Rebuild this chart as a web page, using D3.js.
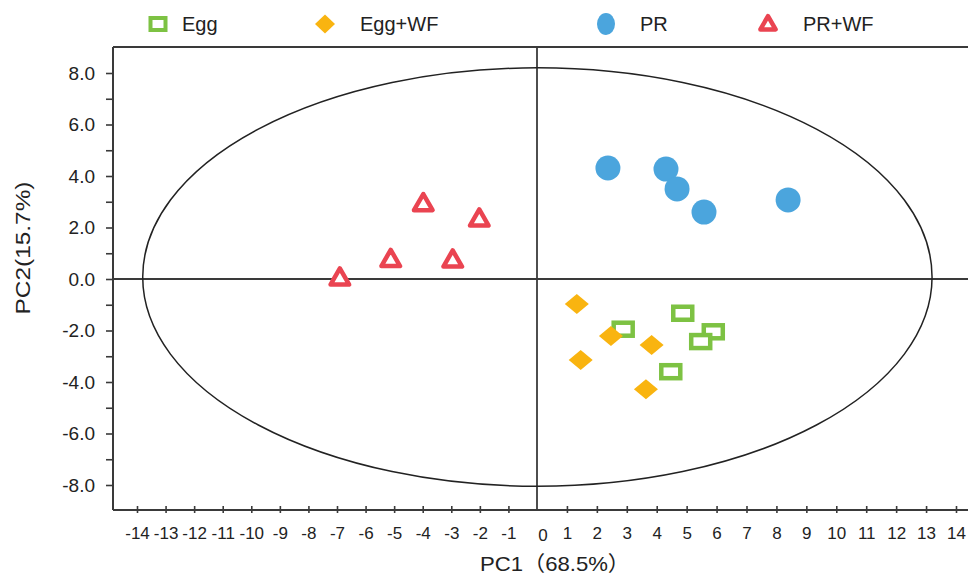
<!DOCTYPE html>
<html>
<head>
<meta charset="utf-8">
<script src="https://cdn.jsdelivr.net/npm/d3@7"></script>
<style>
  body { margin: 0; background: #fff; }
  svg { display: block; font-family: "Liberation Sans", Arial, "Noto Sans CJK SC", sans-serif; }
</style>
</head>
<body>
<div id="chart"></div>
<script>
// 그룹별 PCA 점수 (PC1, PC2)
const groups = ["Egg", "Egg+WF", "PR", "PR+WF"];
const eggX = [4.87, 2.88, 5.89, 5.47, 4.47];
const eggY = [-1.33, -1.95, -2.05, -2.43, -3.60];
const eggWfX = [1.33, 2.47, 3.83, 1.46, 3.64];
const eggWfY = [-0.97, -2.21, -2.56, -3.15, -4.28];
const prX = [2.37, 4.31, 4.68, 5.58, 8.39];
const prY = [4.31, 4.27, 3.50, 2.60, 3.07];
const prWfX = [-3.98, -2.02, -5.12, -2.95, -6.90];
const prWfY = [2.96, 2.36, 0.79, 0.77, 0.07];

// 축 눈금
const xTicks = d3.range(-14, 15);
const yTicks = d3.range(-8, 9);
const yLabels = [-8, -6, -4, -2, 0, 2, 4, 6, 8];

// 신뢰 타원 범위
const ellipseX = [-13.8, 13.2];
const ellipseY = [-8.05, 8.2];

const width = 968, height = 575;
const colors = { "Egg": "#7dc243", "Egg+WF": "#f9b410", "PR": "#4ba5dd", "PR+WF": "#ea4451" };

const svg = d3.select("#chart").append("svg")
    .attr("width", width)
    .attr("height", height);

// 원본 그림의 눈금 간격이 좌우로 조금 달라서 세 점 스케일 사용
const x = d3.scaleLinear().domain([-14, 0, 14]).range([137, 537, 956]);
const y = d3.scaleLinear().domain([-8, 0, 8]).range([485, 279, 73]);

const plotLeft = 113, plotTop = 47, plotBottom = 510;
const lineColor = "#3a3a3a";
const hyphen = s => s.replace("−", "-");

// 프레임
svg.append("line").attr("x1", plotLeft).attr("x2", width).attr("y1", plotTop).attr("y2", plotTop)
    .attr("stroke", lineColor).attr("stroke-width", 2);
svg.append("line").attr("x1", plotLeft).attr("x2", plotLeft).attr("y1", plotTop).attr("y2", plotBottom)
    .attr("stroke", lineColor).attr("stroke-width", 2);

// x 축
const xAxis = svg.append("g")
    .attr("transform", `translate(0,${plotBottom})`)
    .call(d3.axisBottom(x).tickValues(xTicks.filter(d => d !== 0)).tickSize(3).tickPadding(14).tickSizeOuter(0)
        .tickFormat(d => hyphen(String(d))));
xAxis.select(".domain").remove();
xAxis.selectAll(".tick line").attr("y1", -4).attr("stroke", lineColor).attr("stroke-width", 1.6);
xAxis.selectAll(".tick text").attr("font-size", 17).attr("fill", "#222").attr("font-family", null);
xAxis.append("text")
    .attr("x", x(0) + 6).attr("y", 31)
    .attr("text-anchor", "middle").attr("font-size", 17).attr("fill", "#222")
    .text("0");
svg.append("line").attr("x1", plotLeft).attr("x2", width).attr("y1", plotBottom).attr("y2", plotBottom)
    .attr("stroke", lineColor).attr("stroke-width", 2);

// y 축
const yAxis = svg.append("g")
    .attr("transform", `translate(${plotLeft},0)`)
    .call(d3.axisLeft(y).tickValues(yTicks).tickSize(7).tickPadding(11)
        .tickFormat(d => yLabels.includes(d) ? hyphen(d3.format(".1f")(d)) : ""));
yAxis.select(".domain").remove();
yAxis.selectAll(".tick line").attr("stroke", lineColor).attr("stroke-width", 1.6);
yAxis.selectAll(".tick text").attr("font-size", 19).attr("fill", "#222").attr("font-family", null);

// 영점선
svg.append("line").attr("x1", plotLeft).attr("x2", width).attr("y1", y(0)).attr("y2", y(0))
    .attr("stroke", lineColor).attr("stroke-width", 1.8);
svg.append("line").attr("x1", x(0)).attr("x2", x(0)).attr("y1", plotTop).attr("y2", plotBottom)
    .attr("stroke", lineColor).attr("stroke-width", 1.8);

// 타원
svg.append("ellipse")
    .attr("cx", (x(ellipseX[0]) + x(ellipseX[1])) / 2)
    .attr("cy", (y(ellipseY[0]) + y(ellipseY[1])) / 2)
    .attr("rx", (x(ellipseX[1]) - x(ellipseX[0])) / 2)
    .attr("ry", (y(ellipseY[0]) - y(ellipseY[1])) / 2)
    .attr("fill", "none").attr("stroke", "#222").attr("stroke-width", 1.5);

// 축 제목
svg.append("text")
    .attr("transform", `translate(30,248) rotate(-90)`)
    .attr("text-anchor", "middle").attr("font-size", 20).attr("fill", "#222")
    .attr("textLength", 133).attr("lengthAdjust", "spacingAndGlyphs")
    .text("PC2(15.7%)");
svg.append("text")
    .attr("x", 555).attr("y", 571)
    .attr("text-anchor", "middle").attr("font-size", 21).attr("fill", "#222")
    .attr("textLength", 150).attr("lengthAdjust", "spacingAndGlyphs")
    .text("PC1（68.5%）");

const zip = (xs, ys) => xs.map((v, i) => ({ x: v, y: ys[i] }));
const diamond = (w, h) => `M0,${-h / 2}L${w / 2},0L0,${h / 2}L${-w / 2},0Z`;
const triangle = d3.symbol().type(d3.symbolTriangle).size(150);

// Egg: 속이 빈 사각형
svg.append("g").selectAll("rect")
    .data(zip(eggX, eggY))
    .join("rect")
    .attr("x", d => x(d.x) - 9.5).attr("y", d => y(d.y) - 6.5)
    .attr("width", 19).attr("height", 13)
    .attr("fill", "#fff").attr("stroke", colors["Egg"]).attr("stroke-width", 4.5);

// Egg+WF: 마름모
svg.append("g").selectAll("path")
    .data(zip(eggWfX, eggWfY))
    .join("path")
    .attr("transform", d => `translate(${x(d.x)},${y(d.y)})`)
    .attr("d", diamond(24, 20))
    .attr("fill", colors["Egg+WF"]);

// PR: 원
svg.append("g").selectAll("circle")
    .data(zip(prX, prY))
    .join("circle")
    .attr("cx", d => x(d.x)).attr("cy", d => y(d.y))
    .attr("r", 12.5)
    .attr("fill", colors["PR"]);

// PR+WF: 삼각형
svg.append("g").selectAll("path")
    .data(zip(prWfX, prWfY))
    .join("path")
    .attr("transform", d => `translate(${x(d.x)},${y(d.y) + 2})`)
    .attr("d", triangle)
    .attr("fill", "#fff").attr("stroke", colors["PR+WF"])
    .attr("stroke-width", 4.5).attr("stroke-linejoin", "round");

// 범례
const legendX = [158, 325, 606, 768];
const legend = svg.append("g").selectAll("g")
    .data(groups)
    .join("g")
    .attr("transform", (d, i) => `translate(${legendX[i]},24)`);
legend.each(function (d) {
    const g = d3.select(this);
    if (d === "Egg") {
        g.append("rect").attr("x", -7.5).attr("y", -6).attr("width", 15).attr("height", 12)
            .attr("fill", "#fff").attr("stroke", colors[d]).attr("stroke-width", 4);
    } else if (d === "Egg+WF") {
        g.append("path").attr("d", diamond(20, 19)).attr("fill", colors[d]);
    } else if (d === "PR") {
        g.append("ellipse").attr("rx", 9).attr("ry", 11).attr("fill", colors[d]);
    } else {
        g.append("path").attr("d", d3.symbol().type(d3.symbolTriangle).size(100))
            .attr("transform", "translate(0,1)")
            .attr("fill", "#fff").attr("stroke", colors[d]).attr("stroke-width", 4.5)
            .attr("stroke-linejoin", "round");
    }
    g.append("text").attr("x", d === "Egg" ? 24 : (d === "PR" ? 34 : 35)).attr("y", 7)
        .attr("font-size", 20).attr("fill", "#222").text(d);
});
</script>
</body>
</html>
